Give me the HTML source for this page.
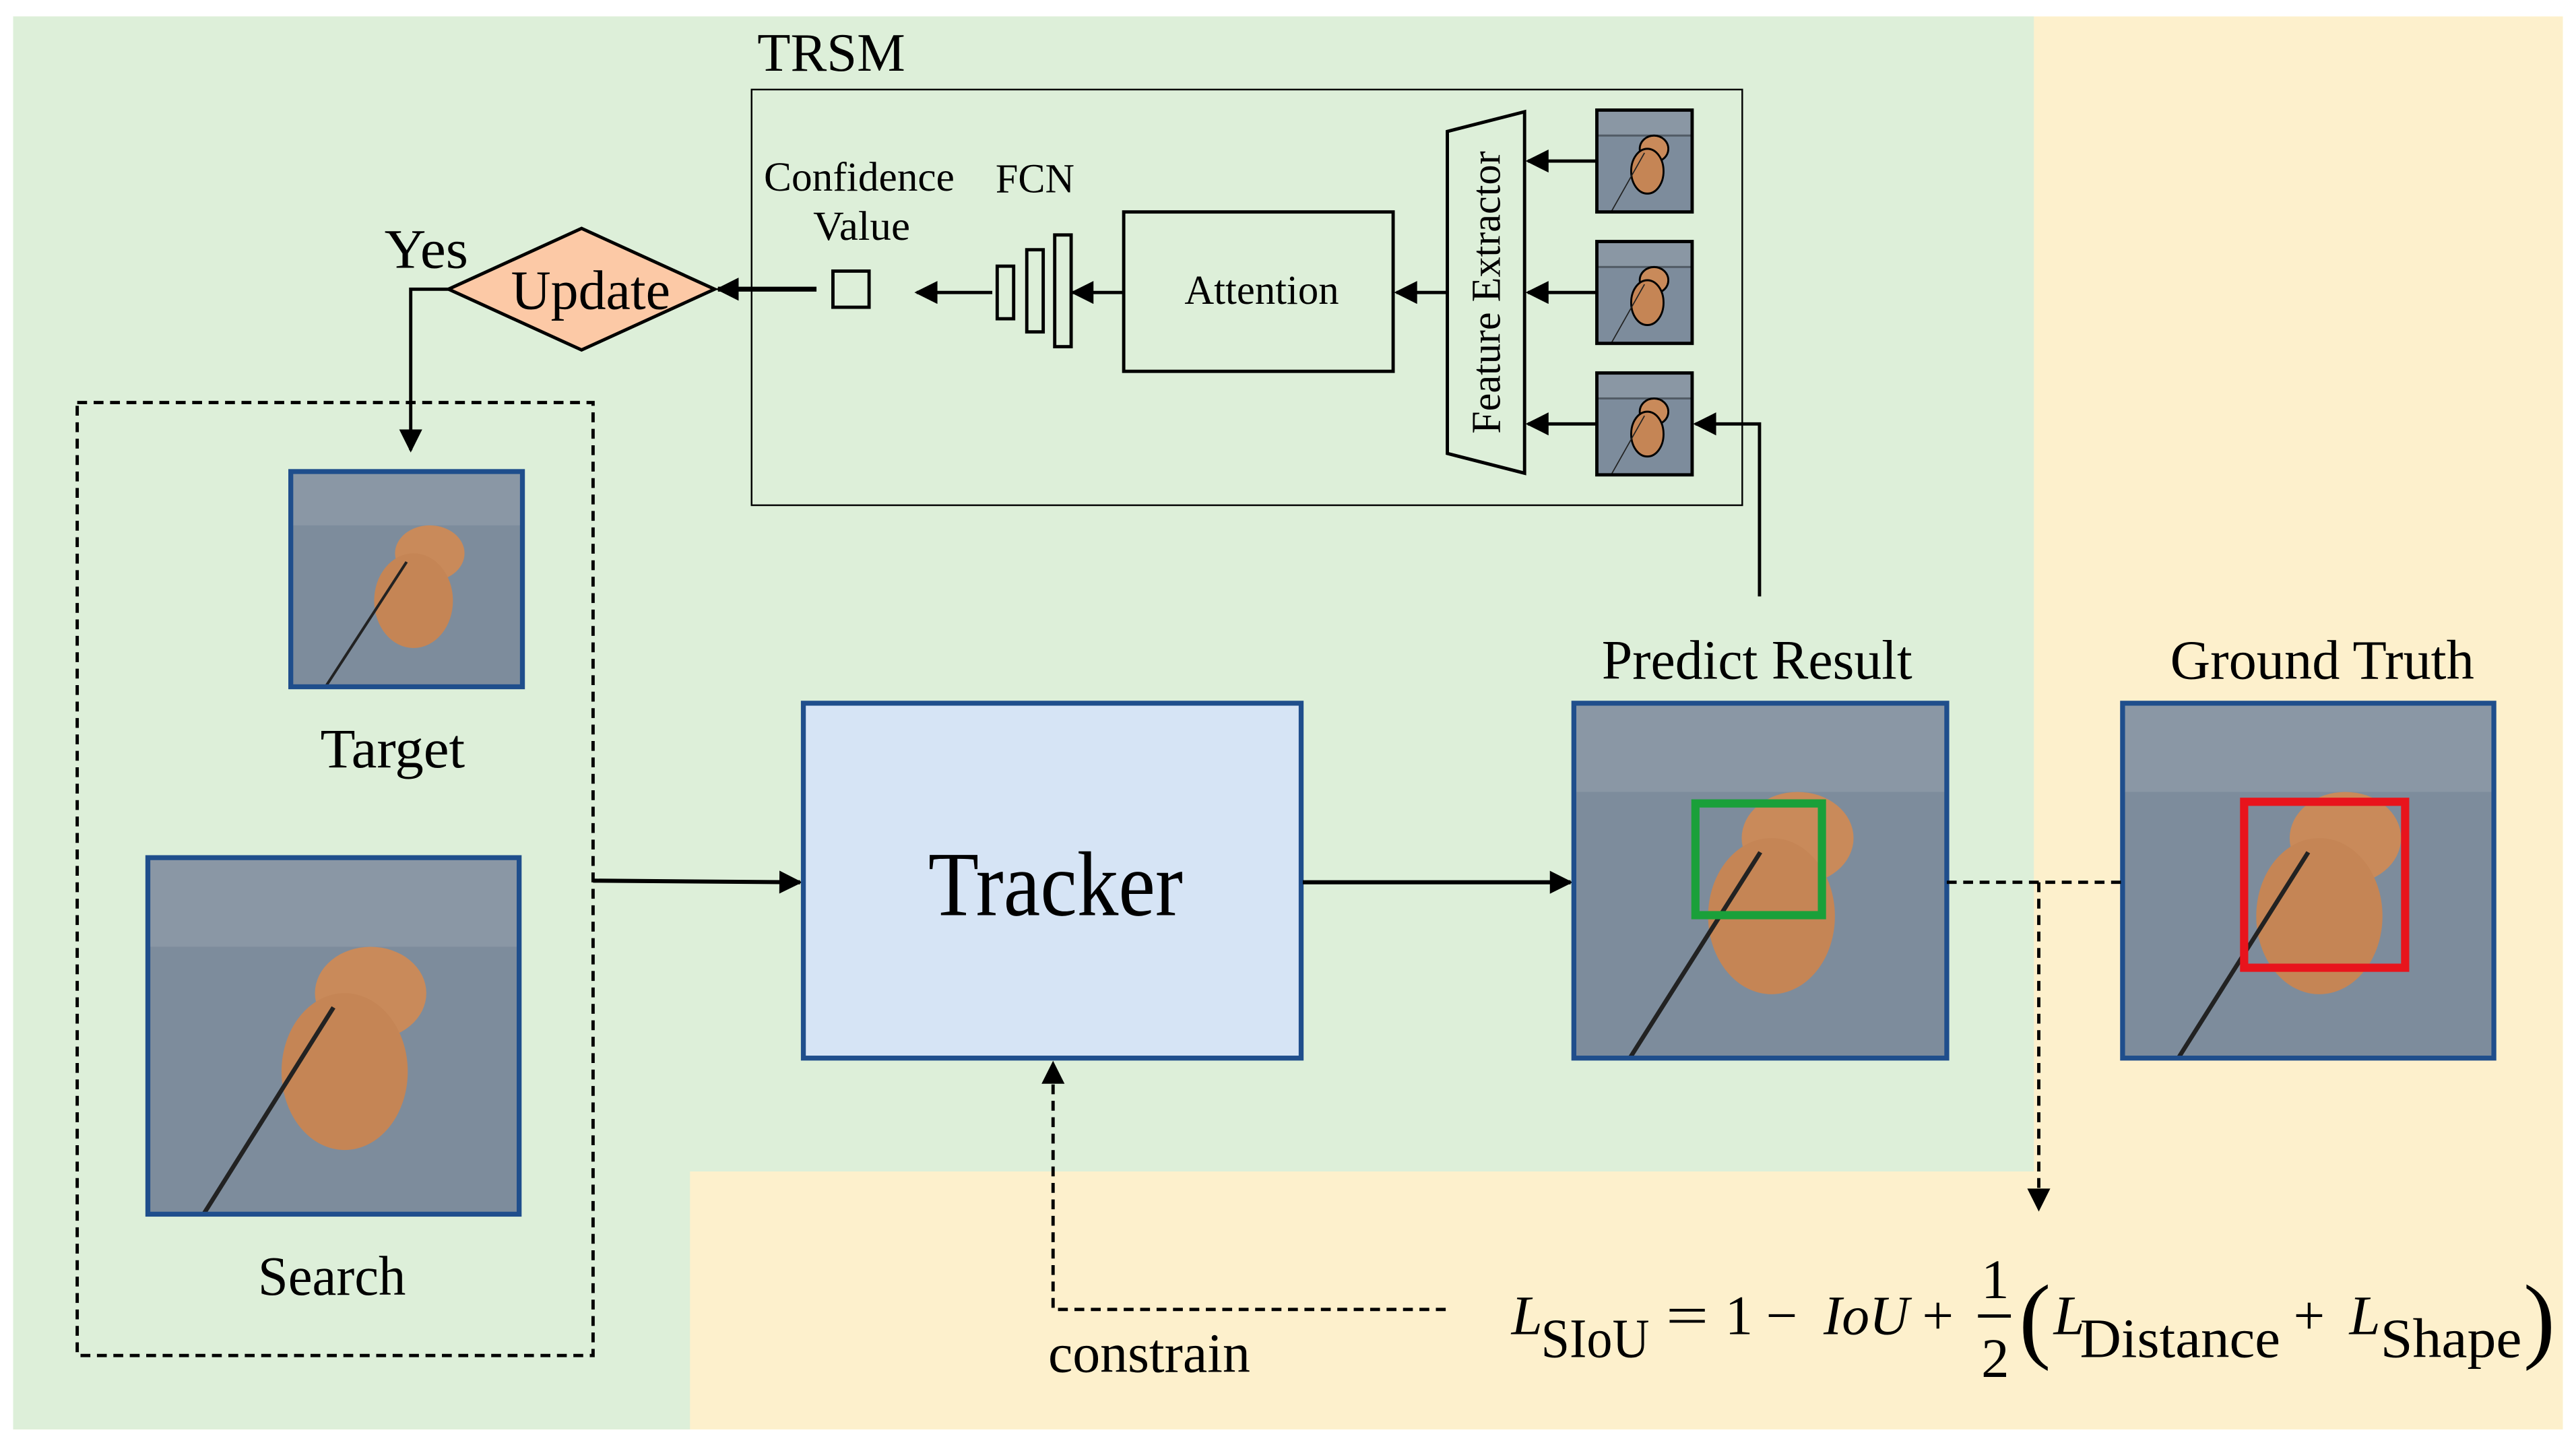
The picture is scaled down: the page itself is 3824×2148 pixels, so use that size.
<!DOCTYPE html>
<html><head><meta charset="utf-8"><style>html,body{margin:0;padding:0;background:#fff}svg{display:block}text{font-family:"Liberation Serif",serif;fill:#000}</style></head><body>
<svg width="3824" height="2148" viewBox="0 0 1568 880.7" preserveAspectRatio="none" xmlns="http://www.w3.org/2000/svg">
<defs>
<marker id="ab" viewBox="0 0 10 10" refX="9" refY="5" markerWidth="16" markerHeight="14" markerUnits="userSpaceOnUse" orient="auto"><path d="M0,0L10,5L0,10z" fill="#000"/></marker>
<g id="dog"><rect width="100" height="100" fill="#7d8c9c"/><rect x="0" y="0" width="100" height="25" fill="#a3adb6" opacity="0.35"/><ellipse cx="60" cy="38" rx="15" ry="13" fill="#c98a5a"/><ellipse cx="53" cy="60" rx="17" ry="22" fill="#c58555"/><line x1="15" y1="100" x2="50" y2="42" stroke="#222" stroke-width="1.2"/></g>
</defs>
<rect x="0" y="0" width="1568" height="881" fill="#fff"/>
<rect x="8" y="10" width="1552" height="860" fill="#fdf0cc"/>
<path d="M8,10H1238V713H420V870H8Z" fill="#ddefd9"/>
<g lengthAdjust="spacingAndGlyphs">
<text x="461" y="43" font-size="33" textLength="90" lengthAdjust="spacingAndGlyphs">TRSM</text>
</g>
<rect x="457.5" y="54.5" width="603" height="253" fill="none" stroke="#000" stroke-width="1"/>
<polygon points="881,80 928,68 928,288 881,276" fill="none" stroke="#000" stroke-width="2"/>
<text x="0" y="0" font-size="25" text-anchor="middle" transform="translate(913,178) rotate(-90)" textLength="172" lengthAdjust="spacingAndGlyphs">Feature Extractor</text>
<g stroke="#000" stroke-width="2">
<svg x="972" y="67" width="58" height="62" viewBox="0 0 100 100" preserveAspectRatio="none"><use href="#dog"/></svg>
<rect x="972" y="67" width="58" height="62" fill="none"/>
<svg x="972" y="147" width="58" height="62" viewBox="0 0 100 100" preserveAspectRatio="none"><use href="#dog"/></svg>
<rect x="972" y="147" width="58" height="62" fill="none"/>
<svg x="972" y="227" width="58" height="62" viewBox="0 0 100 100" preserveAspectRatio="none"><use href="#dog"/></svg>
<rect x="972" y="227" width="58" height="62" fill="none"/>
<line x1="972" y1="98" x2="930" y2="98" marker-end="url(#ab)"/>
<line x1="972" y1="178" x2="930" y2="178" marker-end="url(#ab)"/>
<line x1="972" y1="258" x2="930" y2="258" marker-end="url(#ab)"/>
<polyline points="1071,363 1071,258 1032,258" fill="none" marker-end="url(#ab)"/>
<rect x="684" y="129" width="164" height="97" fill="none"/>
<line x1="881" y1="178" x2="850" y2="178" marker-end="url(#ab)"/>
<rect x="607" y="162" width="10" height="32" fill="none"/>
<rect x="625" y="152" width="10" height="50" fill="none"/>
<rect x="642" y="143" width="10" height="68" fill="none"/>
<line x1="684" y1="178" x2="653" y2="178" marker-end="url(#ab)"/>
<line x1="604" y1="178" x2="558" y2="178" marker-end="url(#ab)"/>
<rect x="507" y="165" width="22" height="22" fill="none"/>
<line x1="497" y1="176" x2="437" y2="176" stroke-width="3" marker-end="url(#ab)"/>
</g>
<text x="721" y="185" font-size="25" textLength="94" lengthAdjust="spacingAndGlyphs">Attention</text>
<text x="465" y="116" font-size="25" textLength="116" lengthAdjust="spacingAndGlyphs">Confidence</text>
<text x="495" y="146" font-size="25" textLength="59" lengthAdjust="spacingAndGlyphs">Value</text>
<text x="606" y="117" font-size="25" textLength="48" lengthAdjust="spacingAndGlyphs">FCN</text>
<polygon points="273,176 354,139 435,176 354,213" fill="#fcc9a6" stroke="#000" stroke-width="2"/>
<text x="311" y="188" font-size="34" textLength="97" lengthAdjust="spacingAndGlyphs">Update</text>
<text x="234" y="163" font-size="34" textLength="51" lengthAdjust="spacingAndGlyphs">Yes</text>
<polyline points="273,176 250,176 250,274" fill="none" stroke="#000" stroke-width="2" marker-end="url(#ab)"/>
<rect x="47" y="245" width="314" height="580" fill="none" stroke="#000" stroke-width="2" stroke-dasharray="6,4"/>
<svg x="177" y="287" width="141" height="131" viewBox="0 0 100 100" preserveAspectRatio="none"><use href="#dog"/></svg>
<rect x="177" y="287" width="141" height="131" fill="none" stroke="#1f4e8c" stroke-width="3"/>
<text x="195" y="467" font-size="34" textLength="88" lengthAdjust="spacingAndGlyphs">Target</text>
<svg x="90" y="522" width="226" height="217" viewBox="0 0 100 100" preserveAspectRatio="none"><use href="#dog"/></svg>
<rect x="90" y="522" width="226" height="217" fill="none" stroke="#1f4e8c" stroke-width="3"/>
<text x="157" y="788" font-size="34" textLength="90" lengthAdjust="spacingAndGlyphs">Search</text>
<line x1="361" y1="536" x2="487" y2="537" stroke="#000" stroke-width="2.5" marker-end="url(#ab)"/>
<rect x="489" y="428" width="303" height="216" fill="#d6e4f5" stroke="#1f4e8c" stroke-width="3"/>
<text x="565" y="557" font-size="56" textLength="155" lengthAdjust="spacingAndGlyphs">Tracker</text>
<line x1="793" y1="537" x2="956" y2="537" stroke="#000" stroke-width="2.5" marker-end="url(#ab)"/>
<svg x="958" y="428" width="227" height="216" viewBox="0 0 100 100" preserveAspectRatio="none"><use href="#dog"/></svg>
<rect x="958" y="428" width="227" height="216" fill="none" stroke="#1f4e8c" stroke-width="3"/>
<rect x="1032" y="489" width="77" height="68" fill="none" stroke="#1aa03a" stroke-width="5"/>
<text x="975" y="413" font-size="34" textLength="189" lengthAdjust="spacingAndGlyphs">Predict Result</text>
<svg x="1292" y="428" width="226" height="216" viewBox="0 0 100 100" preserveAspectRatio="none"><use href="#dog"/></svg>
<rect x="1292" y="428" width="226" height="216" fill="none" stroke="#1f4e8c" stroke-width="3"/>
<rect x="1366" y="488" width="98" height="101" fill="none" stroke="#e8141c" stroke-width="5"/>
<text x="1321" y="413" font-size="34" textLength="185" lengthAdjust="spacingAndGlyphs">Ground Truth</text>
<g stroke="#000" stroke-width="2" stroke-dasharray="6,4" fill="none">
<line x1="1185" y1="537" x2="1292" y2="537"/>
<line x1="1241" y1="537" x2="1241" y2="736" marker-end="url(#ab)"/>
<polyline points="880,797 641,797 641,647" marker-end="url(#ab)"/>
</g>
<text x="638" y="835" font-size="34" textLength="123" lengthAdjust="spacingAndGlyphs">constrain</text>
<g font-size="34">
<text x="920" y="812" font-style="italic">L</text>
<text x="938" y="826" textLength="66" lengthAdjust="spacingAndGlyphs">SIoU</text>
<text x="1014" y="812" textLength="26" lengthAdjust="spacingAndGlyphs">=</text>
<text x="1050" y="812">1</text>
<text x="1075" y="812">−</text>
<text x="1110" y="812" font-style="italic" textLength="52" lengthAdjust="spacingAndGlyphs">IoU</text>
<text x="1170" y="812">+</text>
<text x="1206" y="790">1</text>
<line x1="1204" y1="801" x2="1224" y2="801" stroke="#000" stroke-width="2"/>
<text x="1206" y="838">2</text>
<text x="1229" y="822" font-size="58">(</text>
<text x="1250" y="812" font-style="italic">L</text>
<text x="1266" y="826" textLength="122" lengthAdjust="spacingAndGlyphs">Distance</text>
<text x="1396" y="812">+</text>
<text x="1430" y="812" font-style="italic">L</text>
<text x="1449" y="826" textLength="86" lengthAdjust="spacingAndGlyphs">Shape</text>
<text x="1536" y="822" font-size="58">)</text>
</g>
</svg>
</body></html>
